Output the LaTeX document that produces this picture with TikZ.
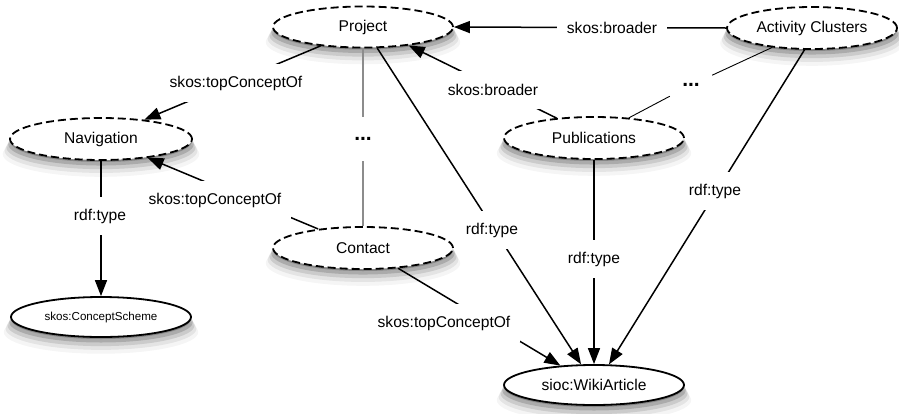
\documentclass[tikz,border=0pt]{standalone}
\usepackage{fontspec}
\setmainfont{Liberation Sans}
\usetikzlibrary{shapes.geometric,arrows.meta,shadows}
\begin{document}
\begin{tikzpicture}[x=1pt,y=-1pt,
  softshadow/.style={
    general shadow={shadow yshift=-2pt, fill=black, opacity=0.22},
    general shadow={shadow yshift=-5pt, shadow scale=1.02, fill=black, opacity=0.16},
    general shadow={shadow yshift=-8pt, shadow scale=1.04, fill=black, opacity=0.11},
    general shadow={shadow yshift=-11pt, shadow scale=1.06, fill=black, opacity=0.07},
    general shadow={shadow yshift=-14pt, shadow scale=1.08, fill=black, opacity=0.04}},
  concept/.style={ellipse, draw, line width=1.8pt, fill=white, inner sep=0pt,
    minimum width=180pt, minimum height=41pt,
    font=\fontsize{15.6pt}{18pt}\selectfont, softshadow},
  dashedconcept/.style={concept, dash pattern=on 8pt off 4pt},
  edge/.style={line width=1.5pt, -{Triangle[length=16pt,width=12pt]}},
  grayline/.style={line width=1.5pt, draw=black!45},
  thinline/.style={line width=0.9pt},
  lbl/.style={fill=white, inner xsep=10pt, inner ysep=0pt, minimum height=38pt,
    font=\fontsize{15.6pt}{18pt}\selectfont},
  dots/.style={inner sep=0pt, font=\fontsize{21pt}{24pt}\selectfont\bfseries},
]
\useasboundingbox (0,0) rectangle (899,413);

% concepts
\node[dashedconcept] (project) at (363,27) {Project};
\node[dashedconcept, minimum width=170pt, minimum height=42pt] (activity) at (812,28) {Activity Clusters};
\node[dashedconcept, minimum width=182pt, minimum height=42pt] (navigation) at (101,139) {Navigation};
\node[dashedconcept, minimum height=42pt] (contact) at (363,248) {Contact};
\node[dashedconcept, minimum height=42pt] (publications) at (594,138) {Publications};
\node[concept, minimum height=40pt, font=\fontsize{11.6pt}{14pt}\selectfont] (scheme) at (101,317) {skos:ConceptScheme};
\node[concept, minimum height=40pt] (wiki) at (594,385) {sioc:WikiArticle};

% ellipsis markers
\node[dots, minimum width=20pt, minimum height=44pt] (dotsL) at (363,139) {...};
\node[dots, minimum width=42pt, minimum height=24pt] (dotsR) at (691,85) {...};

% connectors
\draw[grayline] (project.south) -- (dotsL) -- (contact.north);
\draw[thinline] (activity.-154) -- (dotsR) -- (publications.30);

\draw[edge] (activity.west) -- (project.east);
\draw[edge] (publications.152) -- (project.-22);
\draw[edge] (project.-156) -- (navigation.24);
\draw[edge] (contact.157) -- (navigation.-22);
\draw[edge] (navigation.south) -- (scheme.north);
\draw[edge] (contact.-30) -- (wiki.150);
\draw[edge] (project.-56) -- (wiki.122);
\draw[edge] (publications.south) -- (wiki.north);
\draw[edge] (activity.-109) -- (wiki.54);

% edge labels
\node[lbl] (lab1) at (612,28) {skos:broader};
\node[lbl] (lab2) at (493,90) {skos:broader};
\node[lbl] (lab3) at (236,83) {skos:topConceptOf};
\node[lbl] (lab4) at (215,200) {skos:topConceptOf};
\node[lbl] (lab5) at (100,216) {rdf:type};
\node[lbl] (lab6) at (444,323) {skos:topConceptOf};
\node[lbl] (lab7) at (492,230) {rdf:type};
\node[lbl] (lab8) at (594,259) {rdf:type};
\node[lbl] (lab9) at (715,191) {rdf:type};
\end{tikzpicture}
\end{document}
